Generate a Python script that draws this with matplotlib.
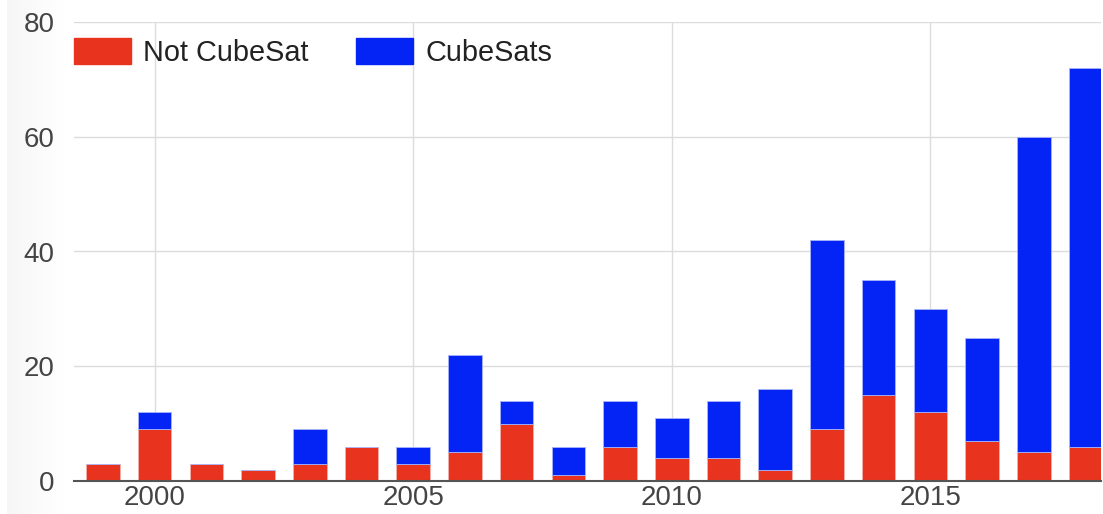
import matplotlib
matplotlib.use("Agg")
import matplotlib.pyplot as plt
import numpy as np
from matplotlib.patches import Patch

years = [1999, 2000, 2001, 2002, 2003, 2004, 2005, 2006, 2007, 2008,
         2009, 2010, 2011, 2012, 2013, 2014, 2015, 2016, 2017, 2018]
not_cubesat = [3, 9, 3, 2, 3, 6, 3, 5, 10, 1, 6, 4, 4, 2, 9, 15, 12, 7, 5, 6]
cubesats = [0, 3, 0, 0, 6, 0, 3, 17, 4, 5, 8, 7, 10, 14, 33, 20, 18, 18, 55, 66]
x_ticks = [2000, 2005, 2010, 2015]
y_ticks = [0, 20, 40, 60, 80]

RED = "#e8341f"
BLUE = "#0324f5"

plt.rcParams['font.family'] = ['Liberation Sans', 'DejaVu Sans']

W, H = 1103, 514
fig = plt.figure(figsize=(W / 100, H / 100), dpi=100)

# faint grey strip at the far left (screenshot edge)
bg = fig.add_axes([7 / W, 0, 55 / W, 1])
grad = np.linspace(0.965, 1.0, 64).reshape(1, -1)
bg.imshow(np.dstack([grad, grad, grad]), aspect="auto", extent=[0, 1, 0, 1])
bg.axis("off")

left, right, top, bottom = 74, 1101, 22, 481
ax = fig.add_axes([left / W, 1 - bottom / H, (right - left) / W, (bottom - top) / H])
ax.patch.set_alpha(0)

bw = 0.65
ax.bar(years, not_cubesat, width=bw, color=RED, edgecolor="#f4b0a8", linewidth=0.6, zorder=3)
ax.bar(years, cubesats, width=bw, bottom=not_cubesat, color=BLUE, edgecolor="#a8b4fa",
       linewidth=0.6, zorder=3)

ax.set_xlim(1998.44, 2018.3)
ax.set_ylim(0, 80)
ax.set_xticks(x_ticks)
ax.set_xticklabels([str(t) for t in x_ticks])
ax.set_yticks(y_ticks)
ax.set_yticklabels([str(t) for t in y_ticks])

ax.grid(True, color="#dcdcdc", linewidth=1.0, zorder=0)
ax.set_axisbelow(True)
for s in ["top", "right", "left"]:
    ax.spines[s].set_visible(False)
ax.spines["bottom"].set_color("#555555")
ax.spines["bottom"].set_linewidth(1.5)
ax.spines["bottom"].set_zorder(4)
ax.tick_params(axis="both", length=0, labelsize=20, colors="#444444")
ax.tick_params(axis="y", pad=14)
ax.tick_params(axis="x", pad=3)

handles = [Patch(facecolor=RED, edgecolor=RED), Patch(facecolor=BLUE, edgecolor=BLUE)]
leg = ax.legend(handles, ["Not CubeSat", "CubeSats"], ncol=2, loc="upper left",
                bbox_to_anchor=(0.0, 0.965), frameon=False, fontsize=20.8,
                handlelength=1.97, handleheight=1.0, handletextpad=0.42,
                columnspacing=1.65, borderaxespad=0, borderpad=0)
for t in leg.get_texts():
    t.set_color("#222222")

fig.savefig("out.png", dpi=100, facecolor="white")
